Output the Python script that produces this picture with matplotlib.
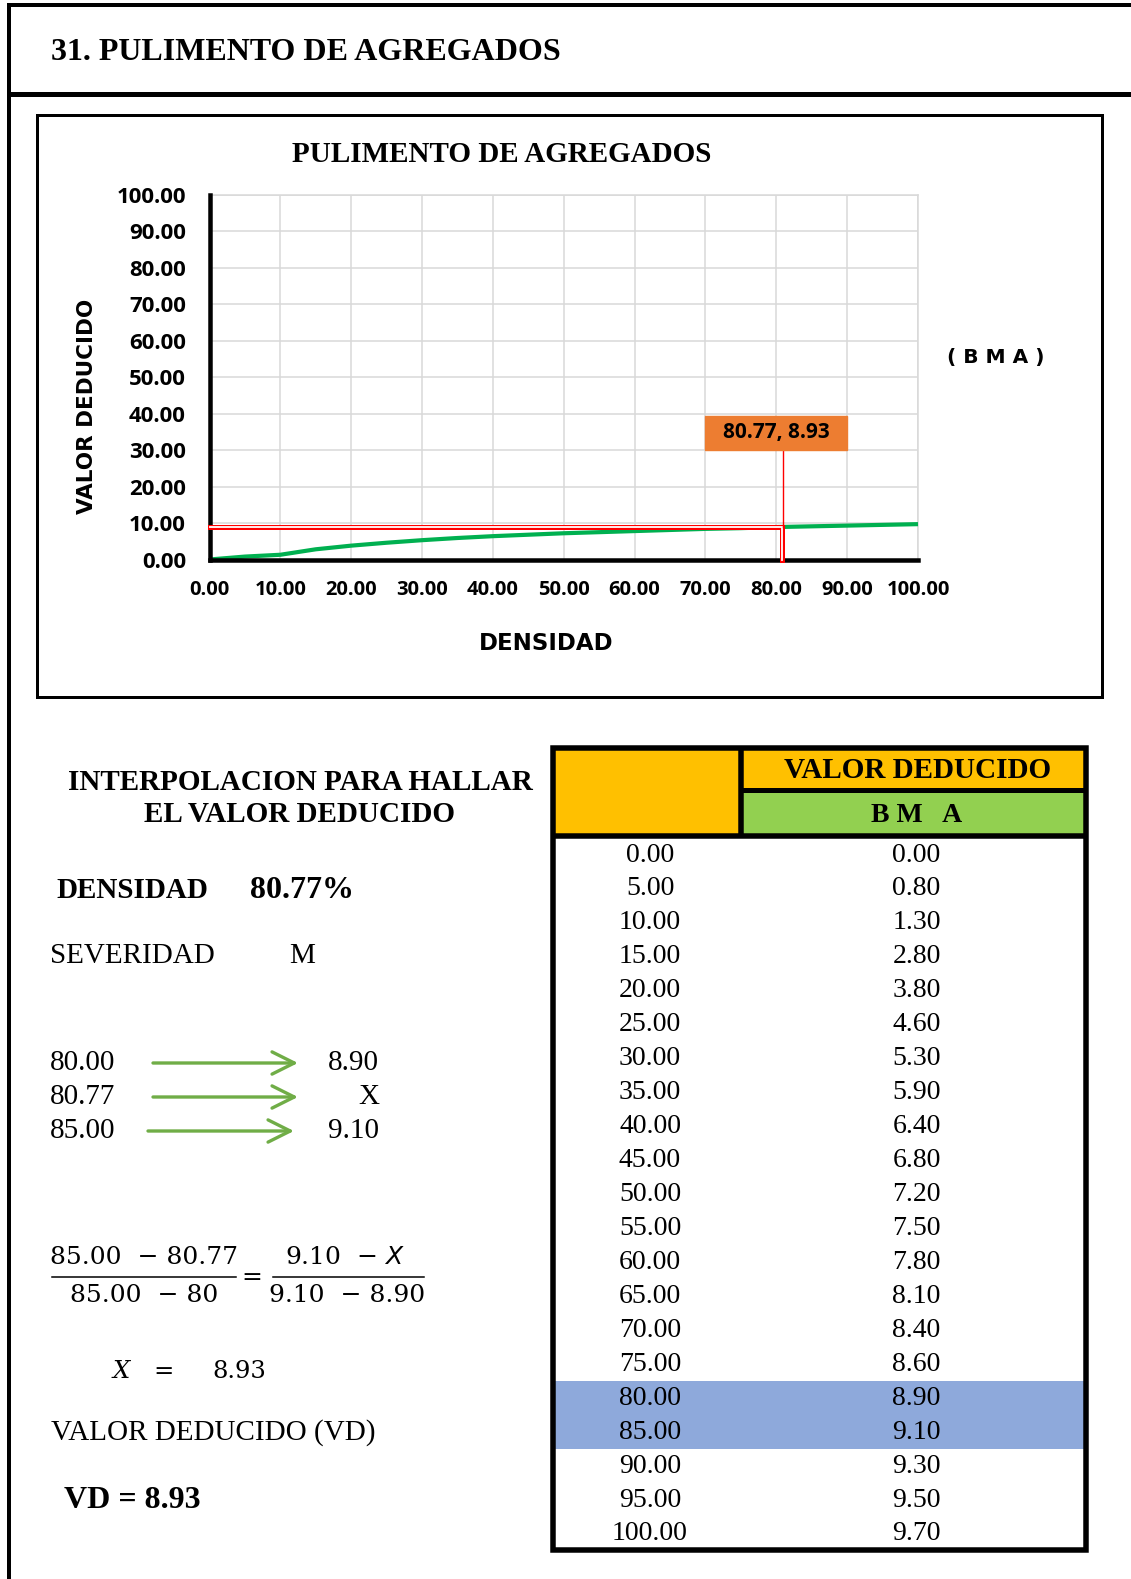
import numpy as np
import matplotlib
matplotlib.use('Agg')
import matplotlib.pyplot as plt
import matplotlib.transforms as mtransforms
from matplotlib.patches import Rectangle

# --- data (read from the sheet) ---
densidad = [0, 5, 10, 15, 20, 25, 30, 35, 40, 45, 50,
            55, 60, 65, 70, 75, 80, 85, 90, 95, 100]
valor_deducido = [0.00, 0.80, 1.30, 2.80, 3.80, 4.60, 5.30, 5.90, 6.40, 6.80, 7.20,
                  7.50, 7.80, 8.10, 8.40, 8.60, 8.90, 9.10, 9.30, 9.50, 9.70]
axis_ticks = [0, 10, 20, 30, 40, 50, 60, 70, 80, 90, 100]

densidad_obs = 80.77
vd_obs = 8.93
interp_dens = [80.00, 80.77, 85.00]
interp_vd = ['8.90', 'X', '9.10']
highlight = [80, 85]

SERIF = 'Liberation Serif'
SANS = 'Open Sans'
WIDE = 'DejaVu Sans'
MATH = 'DejaVu Serif'

W, H = 1131, 1579
fig = plt.figure(figsize=(W / 100, H / 100), dpi=100)

def pt(p):
    # pixels -> points at 100 dpi
    return p * 0.72

# background axes in pixel coords for the page layout
bg = fig.add_axes([0, 0, 1, 1])
bg.set_xlim(0, W)
bg.set_ylim(H, 0)
bg.axis('off')

# page frame
bg.plot([7, W], [5, 5], color='black', lw=pt(4), solid_capstyle='butt')
bg.plot([9, 9], [3, H], color='black', lw=pt(4), solid_capstyle='butt')
bg.plot([7, W], [93.5, 93.5], color='black', lw=pt(5), solid_capstyle='butt')
bg.add_patch(Rectangle((36.5, 115), 1065, 582, fill=False, ec='black', lw=pt(3)))

bg.text(50.6, 53, '31. PULIMENTO DE AGREGADOS', family=SERIF, weight='bold',
        size=23, ha='left', va='center')
bg.text(502, 154, 'PULIMENTO DE AGREGADOS', family=SERIF, weight='bold',
        size=21, ha='center', va='center')
bg.text(87, 406, 'VALOR DEDUCIDO', family=WIDE, weight='bold', size=15.5,
        rotation=90, ha='center', va='center')
bg.text(546, 644, 'DENSIDAD', family=WIDE, weight='bold', size=16.5,
        ha='center', va='center')
bg.text(996, 358, '( B M A )', family=WIDE, weight='bold', size=14.5,
        ha='center', va='center')

# --- chart ---
ax = fig.add_axes([209.5 / W, 1 - 559.5 / H, (918 - 209.5) / W, (559.5 - 195) / H])
ax.set_xlim(0, 100)
ax.set_ylim(0, 100)
ax.set_xticks(axis_ticks)
ax.set_yticks(axis_ticks)
ax.set_xticklabels(['%.2f' % t for t in axis_ticks], fontfamily=SANS, fontweight='bold', fontsize=14.5)
ax.set_yticklabels(['%.2f' % t for t in axis_ticks], fontfamily=SANS, fontweight='bold', fontsize=16)
ax.tick_params(axis='x', length=0, pad=15)
ax.tick_params(axis='y', length=0, pad=17)
ax.grid(color='#D9D9D9', lw=1.1)
ax.set_axisbelow(True)
for s in ['top', 'right']:
    ax.spines[s].set_color('#D9D9D9')
    ax.spines[s].set_linewidth(1.1)
for s in ['left', 'bottom']:
    ax.spines[s].set_color('black')
    ax.spines[s].set_linewidth(pt(4.5))
    ax.spines[s].set_zorder(4)

ax.plot(densidad, valor_deducido, color='#00B050', lw=3, clip_on=False,
        zorder=3, solid_capstyle='butt')

# red guide (double line) to the read point
gx = [0, densidad_obs, densidad_obs]
gy = [vd_obs, vd_obs, 0]
ax.plot(gx, gy, color='red', lw=3.6, zorder=5, solid_joinstyle='miter', clip_on=False)
ax.plot(gx, gy, color='white', lw=1.3, zorder=6, solid_joinstyle='miter', clip_on=False)
shift = mtransforms.offset_copy(ax.transData, fig=fig, x=1.25, y=0, units='points')
ax.plot([densidad_obs, densidad_obs], [vd_obs, 30], color='red', lw=1.0,
        transform=shift, zorder=6)

ax.add_patch(Rectangle((70, 30), 20, 9.5, color='#ED7D31', zorder=7))
ax.text(80, 34.75, '%.2f, %.2f' % (densidad_obs, vd_obs), family=SANS, weight='bold',
        size=15, ha='center', va='center', zorder=8)

# --- interpolation block ---
bg.text(300, 782, 'INTERPOLACION PARA HALLAR', family=SERIF, weight='bold',
        size=21, ha='center', va='center')
bg.text(300, 815, 'EL VALOR DEDUCIDO', family=SERIF, weight='bold',
        size=21, ha='center', va='center')
bg.text(56, 890, 'DENSIDAD', family=SERIF, weight='bold', size=21, ha='left', va='center')
bg.text(250, 890, '%.2f%%' % densidad_obs, family=SERIF, weight='bold', size=23,
        ha='left', va='center')
bg.text(50, 956, 'SEVERIDAD', family=SERIF, size=21, ha='left', va='center')
bg.text(302, 956, 'M', family=SERIF, size=21, ha='center', va='center')

row_y = [1063, 1097, 1131]
arrow_x = [(153, 298), (153, 298), (148, 294)]
for i in range(3):
    y = row_y[i]
    bg.text(50, y, '%.2f' % interp_dens[i], family=SERIF, size=21, ha='left', va='center')
    bg.text(379, y, interp_vd[i], family=SERIF, size=21, ha='right', va='center')
    bg.annotate('', xy=(arrow_x[i][1], y), xytext=(arrow_x[i][0], y),
                arrowprops=dict(arrowstyle='->,head_length=0.8,head_width=0.4',
                                color='#70AD47', lw=2.4, mutation_scale=20,
                                shrinkA=0, shrinkB=0))

# fraction equation
lo_d, hi_d = interp_dens[0], interp_dens[2]
lo_v, hi_v = interp_vd[0], interp_vd[2]
bg.text(144, 1258, '%.2f  − %.2f' % (hi_d, densidad_obs), family=MATH, size=18, ha='center', va='center')
bg.plot([52, 236], [1277, 1277], color='black', lw=1.1)
bg.text(144, 1296, '%.2f  − %.0f' % (hi_d, lo_d), family=MATH, size=18, ha='center', va='center')
bg.text(252, 1278, '=', family=MATH, size=18, ha='center', va='center')
bg.text(345, 1258, hi_v + '  − $\\mathit{X}$', family=MATH, size=18, ha='center', va='center')
bg.plot([273, 424], [1277, 1277], color='black', lw=1.1)
bg.text(347, 1296, hi_v + '  − ' + lo_v, family=MATH, size=18, ha='center', va='center')

bg.text(121.5, 1371, 'X', family=MATH, style='italic', size=17.5, ha='center', va='center')
bg.text(164, 1371, '=', family=MATH, size=17.5, ha='center', va='center')
bg.text(239, 1371, '%.2f' % vd_obs, family=MATH, size=17.5, ha='center', va='center')
bg.text(50.6, 1433, 'VALOR DEDUCIDO (VD)', family=SERIF, size=21, ha='left', va='center')
bg.text(64, 1500, 'VD = %.2f' % vd_obs, family=SERIF, weight='bold', size=23,
        ha='left', va='center')

# --- table ---
tx0, tx1, ty0, ty1 = 553, 1086, 747.5, 1550
xdiv, ymid, yhead = 741, 790, 835.5
row0, row_h = 855, 33.95
bg.add_patch(Rectangle((tx0, ty0), xdiv - tx0, yhead - ty0, color='#FFC000', lw=0))
bg.add_patch(Rectangle((xdiv, ty0), tx1 - xdiv, ymid - ty0, color='#FFC000', lw=0))
bg.add_patch(Rectangle((xdiv, ymid), tx1 - xdiv, yhead - ymid, color='#92D050', lw=0))
for i, d in enumerate(densidad):
    yc = row0 + i * row_h
    if d in highlight:
        bg.add_patch(Rectangle((tx0, yc - row_h / 2), tx1 - tx0, row_h, color='#8EA9DB', lw=0))
    bg.text(650, yc, '%.2f' % d, family=SERIF, size=20, ha='center', va='center')
    bg.text(916.5, yc, '%.2f' % valor_deducido[i], family=SERIF, size=20, ha='center', va='center')

bg.add_patch(Rectangle((tx0, ty0), tx1 - tx0, ty1 - ty0, fill=False, ec='black',
                       lw=pt(5.5), joinstyle='miter'))
bg.plot([xdiv, xdiv], [ty0, yhead], color='black', lw=pt(5.5), solid_capstyle='butt')
bg.plot([xdiv, tx1], [ymid, ymid], color='black', lw=pt(5), solid_capstyle='butt')
bg.plot([tx0, tx1], [yhead, yhead], color='black', lw=pt(5.5), solid_capstyle='butt')
bg.text(917.7, 771, 'VALOR DEDUCIDO', family=SERIF, weight='bold', size=21,
        ha='center', va='center')
bg.text(916.5, 815, 'B M   A', family=SERIF, weight='bold', size=20,
        ha='center', va='center')

fig.savefig('out.png', dpi=100, facecolor='white')
